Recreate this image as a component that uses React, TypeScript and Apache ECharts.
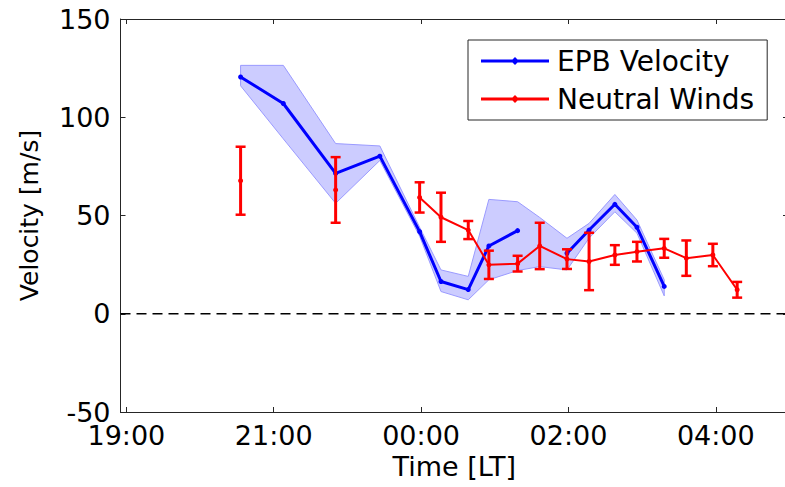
import React, { useEffect, useRef } from "react";
import * as echarts from "echarts";

// ---- data (hours; values after midnight are > 24) ----
const TIMES = [20.55, 21.13, 21.84, 22.44, 22.98, 23.27, 23.64, 23.92, 24.31, 24.61, 24.98, 25.28, 25.63, 25.93, 26.3, 26.6, 26.96, 27.29];

const EPB_VELOCITY = [120.5, 107, 71.4, 80.2, 41.8, 16.4, 12.3, 34.5, 42.3, null, 30.8, 42.6, 55.7, 44, 13.9, null, null, null];
const EPB_UPPER = [126.4, 126.4, 86.6, 85.4, 44, 22.3, 19, 58.2, 57, 49, 38.4, 46, 60.7, 47.7, 17.3];
const EPB_LOWER = [116, 89, 56.2, 78, 39.5, 11.3, 7.1, 17.3, 22, 24, 22.3, 38.5, 51.9, 41, 9.1];

const WIND_MEAN = [67.7, null, 63, null, 59.2, 49.1, 42.6, 24.9, 25.5, 34.5, 27.8, 26.6, 29.9, 31.6, 33.3, 28.3, 29.9, 12.2];
const WIND_ERR = [17.3, null, 16.7, null, 7.7, 12.5, 4.6, 7.2, 4, 11.8, 5, 14.6, 5, 5, 4.8, 9, 5.7, 4];

const X_MIN = 18.92;
const X_MAX = 27.98;
const TICK_POS = [19, 21, 23, 25, 27];
const TICK_LABELS = ["19:00", "21:00", "00:00", "02:00", "04:00"];
const Y_MIN = -50;
const Y_MAX = 150;
const Y_STEP = 50;
const ZERO_LEVEL = 0;

const FONT = "DejaVu Sans";
const AXIS_COLOR = "#262626";

const LEGEND_ICON = "path://M0,2.6 L68,2.6 L68,5.4 L0,5.4 Z M34,0 L38,4 L34,8 L30,4 Z";

export default function App() {
  const ref = useRef<HTMLDivElement>(null);

  useEffect(() => {
    if (!ref.current) return;
    const chart = echarts.init(ref.current, null, { renderer: "svg" });

    const epbData = TIMES.map((t, i) => [t, EPB_VELOCITY[i]]);
    const windData = TIMES.map((t, i) => [t, WIND_MEAN[i]]);
    const errData: number[][] = [];
    TIMES.forEach((t, i) => {
      if (WIND_MEAN[i] != null && WIND_ERR[i] != null) {
        errData.push([t, WIND_MEAN[i] as number, WIND_ERR[i] as number]);
      }
    });

    const axisLine = { show: true, onZero: false, lineStyle: { color: AXIS_COLOR, width: 1 } };
    const tickStyle = { color: AXIS_COLOR, width: 1 };

    const option: any = {
      animation: false,
      backgroundColor: "#ffffff",
      textStyle: { fontFamily: FONT },
      grid: { left: 120.5, right: 12, top: 19, bottom: 75 },
      legend: {
        orient: "vertical",
        left: 468,
        top: 40,
        data: ["EPB Velocity", "Neutral Winds"],
        icon: LEGEND_ICON,
        itemWidth: 68,
        itemHeight: 8,
        itemGap: 8,
        padding: [6, 13, 6, 13],
        borderColor: AXIS_COLOR,
        borderWidth: 1,
        backgroundColor: "#ffffff",
        selectedMode: false,
        textStyle: { fontFamily: FONT, fontSize: 28, color: "#000", lineHeight: 30, padding: [0, 0, 0, 3] },
      },
      xAxis: [
        {
          type: "value",
          min: X_MIN,
          max: X_MAX,
          position: "bottom",
          name: "Time [LT]",
          nameLocation: "middle",
          nameGap: 41,
          nameTextStyle: { fontFamily: FONT, fontSize: 27, color: "#000" },
          axisLine,
          axisTick: { show: true, inside: true, length: 5, customValues: TICK_POS, lineStyle: tickStyle },
          axisLabel: {
            customValues: TICK_POS,
            formatter: (v: number) => {
              const k = TICK_POS.indexOf(Math.round(v));
              return k >= 0 ? TICK_LABELS[k] : "";
            },
            fontFamily: FONT,
            fontSize: 27,
            lineHeight: 20,
            color: "#000",
            margin: 13,
          },
          splitLine: { show: false },
        },
        {
          type: "value",
          min: X_MIN,
          max: X_MAX,
          position: "top",
          axisLine,
          axisTick: { show: true, inside: true, length: 5, customValues: TICK_POS, lineStyle: tickStyle },
          axisLabel: { show: false },
          splitLine: { show: false },
        },
      ],
      yAxis: [
        {
          type: "value",
          min: Y_MIN,
          max: Y_MAX,
          interval: Y_STEP,
          position: "left",
          name: "Velocity [m/s]",
          nameLocation: "middle",
          nameGap: 79,
          nameTextStyle: { fontFamily: FONT, fontSize: 25, color: "#000" },
          axisLine,
          axisTick: { show: true, inside: true, length: 5, lineStyle: tickStyle },
          axisLabel: { fontFamily: FONT, fontSize: 27, lineHeight: 20, color: "#000", margin: 10 },
          splitLine: { show: false },
        },
        {
          type: "value",
          min: Y_MIN,
          max: Y_MAX,
          interval: Y_STEP,
          position: "right",
          axisLine,
          axisTick: { show: true, inside: true, length: 5, lineStyle: tickStyle },
          axisLabel: { show: false },
          splitLine: { show: false },
        },
      ],
      series: [
        {
          name: "EPB band",
          type: "custom",
          coordinateSystem: "cartesian2d",
          xAxisIndex: 0,
          yAxisIndex: 0,
          silent: true,
          z: 1,
          data: [[TIMES[0], EPB_UPPER[0]]],
          renderItem: (_params: any, api: any) => {
            const pts: number[][] = [];
            for (let i = 0; i < EPB_UPPER.length; i++) pts.push(api.coord([TIMES[i], EPB_UPPER[i]]));
            for (let i = EPB_LOWER.length - 1; i >= 0; i--) pts.push(api.coord([TIMES[i], EPB_LOWER[i]]));
            return {
              type: "polygon",
              shape: { points: pts },
              style: { fill: "#ccccff", stroke: "#9a9aff", lineWidth: 1 },
            };
          },
        },
        {
          name: "zero",
          type: "custom",
          coordinateSystem: "cartesian2d",
          xAxisIndex: 0,
          yAxisIndex: 0,
          silent: true,
          z: 2,
          data: [[X_MIN, ZERO_LEVEL]],
          renderItem: (_params: any, api: any) => {
            const a = api.coord([X_MIN, ZERO_LEVEL]);
            const b = api.coord([X_MAX, ZERO_LEVEL]);
            return {
              type: "line",
              shape: { x1: a[0], y1: a[1], x2: b[0], y2: b[1] },
              style: { stroke: "#000", lineWidth: 1.3, lineDash: [10, 6] },
            };
          },
        },
        {
          name: "EPB Velocity",
          type: "line",
          xAxisIndex: 0,
          yAxisIndex: 0,
          z: 3,
          data: epbData,
          connectNulls: false,
          showSymbol: true,
          symbol: "circle",
          symbolSize: 5,
          itemStyle: { color: "#0000ff" },
          lineStyle: { color: "#0000ff", width: 3 },
        },
        {
          name: "Neutral Winds",
          type: "line",
          xAxisIndex: 0,
          yAxisIndex: 0,
          z: 4,
          data: windData,
          connectNulls: false,
          showSymbol: true,
          symbol: "circle",
          symbolSize: 5,
          itemStyle: { color: "#ff0000" },
          lineStyle: { color: "#ff0000", width: 2 },
        },
        {
          name: "Neutral Winds err",
          type: "custom",
          coordinateSystem: "cartesian2d",
          xAxisIndex: 0,
          yAxisIndex: 0,
          silent: true,
          z: 4,
          data: errData,
          renderItem: (_params: any, api: any) => {
            const t = api.value(0);
            const m = api.value(1);
            const e = api.value(2);
            const top = api.coord([t, m + e]);
            const bot = api.coord([t, m - e]);
            const style = { stroke: "#ff0000", lineWidth: 3 };
            return {
              type: "group",
              children: [
                { type: "line", shape: { x1: top[0], y1: top[1], x2: bot[0], y2: bot[1] }, style },
                { type: "line", shape: { x1: top[0] - 5, y1: top[1], x2: top[0] + 5, y2: top[1] }, style: { stroke: "#ff0000", lineWidth: 2.5 } },
                { type: "line", shape: { x1: bot[0] - 5, y1: bot[1], x2: bot[0] + 5, y2: bot[1] }, style: { stroke: "#ff0000", lineWidth: 2.5 } },
              ],
            };
          },
        },
      ],
    };

    chart.setOption(option);
    return () => chart.dispose();
  }, []);

  return (
    <div style={{ position: "fixed", left: 0, top: 0, width: 785, height: 487, overflow: "hidden", background: "#fff" }}>
      <div ref={ref} style={{ position: "absolute", left: 0, top: 0, width: 800, height: 487 }} />
    </div>
  );
}
